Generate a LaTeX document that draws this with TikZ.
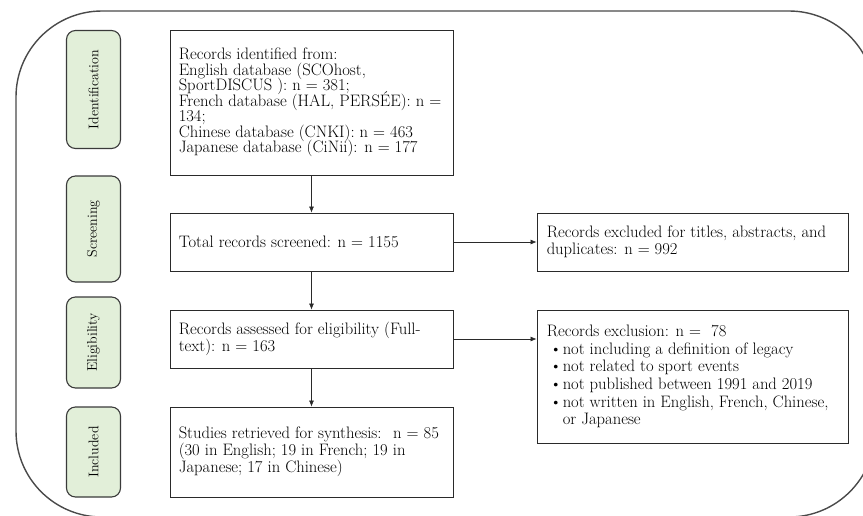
\documentclass[tikz,border=0pt]{standalone}
\usetikzlibrary{arrows.meta}
\definecolor{labfill}{HTML}{E2EFD9}
\definecolor{labdraw}{HTML}{3A3A3A}
\definecolor{framec}{HTML}{4A4A4A}
\definecolor{linec}{HTML}{2A2A2A}
\newcommand\myfs[2]{\fontsize{#1}{#2}\selectfont\lineskiplimit=-20pt\relax}
\tikzset{
  box/.style={draw=linec, line width=0.9pt, rectangle, inner sep=0pt, minimum width=283pt},
  rbox/.style={draw=linec, line width=0.9pt, rectangle, inner sep=0pt, minimum width=311pt},
  lab/.style={draw=labdraw, fill=labfill, line width=1.1pt, rounded corners=9pt, inner sep=0pt, minimum width=54pt},
  labtxt/.style={rotate=90, inner sep=0pt, font={\myfs{14}{15}}},
  txt/.style={anchor=west, align=left, inner sep=0pt, font={\myfs{16.6}{17}}},
  arr/.style={draw=linec, line width=0.6pt, -{Latex[length=6pt,width=5pt]}}
}
\begin{document}
\begin{tikzpicture}[x=1pt,y=-1pt]
\useasboundingbox (0,0) rectangle (863,515);
\begin{scope}
\clip (0,0) rectangle (863,515);
\draw[framec, line width=1.4pt, rounded corners=86pt] (16,11) rectangle (875,517);
\end{scope}
% stage labels
\node[lab, minimum height=118pt] (l1) at (93.5,89.5) {};
\node[labtxt] (l1t) at (l1.center) {Identification};
\node[lab, minimum height=106pt] (l2) at (93.5,229) {};
\node[labtxt] (l2t) at (l2.center) {Screening};
\node[lab, minimum height=91pt] (l3) at (93.5,342.5) {};
\node[labtxt] (l3t) at (l3.center) {Eligibility};
\node[lab, minimum height=90pt] (l4) at (93.5,452) {};
\node[labtxt] (l4t) at (l4.center) {Included};
% main boxes
\node[box, minimum height=145pt] (b1) at (311.5,102.5) {};
\node[txt, font={\myfs{16.6}{15.5}}] (b1t) at ([xshift=9pt]b1.west) {Records identified from:\\English database (SCOhost,\\SportDISCUS ): n = 381;\\French database (HAL, PERSÉE): n =\\134;\\Chinese database (CNKI): n = 463\\Japanese database (CiNii): n = 177};
\node[box, minimum height=58pt] (b2) at (311.5,242) {};
\node[txt] (b2t) at ([xshift=9pt]b2.west) {Total records screened: n = 1155};
\node[box, minimum height=58pt] (b3) at (311.5,339) {};
\node[txt, font={\myfs{16.6}{16.8}}] (b3t) at ([xshift=9pt]b3.west) {Records assessed for eligibility (Full-\\text): n = 163};
\node[box, minimum height=90pt] (b4) at (311.5,452) {};
\node[txt] (b4t) at ([xshift=9pt]b4.west) {Studies retrieved for synthesis:~ n = 85\\(30 in English; 19 in French; 19 in\\Japanese; 17 in Chinese)};
% right boxes
\node[rbox, minimum height=58pt] (r1) at (692.5,242) {};
\node[txt] (r1t) at ([xshift=10pt]r1.west) {Records excluded for titles, abstracts, and\\duplicates: n = 992};
\node[rbox, minimum height=133pt] (r2) at (692.5,376.5) {};
\node[txt, font={\myfs{16.6}{17.6}}] (r2t) at ([xshift=10pt]r2.west) {Records exclusion: n = ~78\\
\hspace*{3pt}\makebox[13pt][l]{\textbullet}not including a definition of legacy\\
\hspace*{3pt}\makebox[13pt][l]{\textbullet}not related to sport events\\
\hspace*{3pt}\makebox[13pt][l]{\textbullet}not published between 1991 and 2019\\
\hspace*{3pt}\makebox[13pt][l]{\textbullet}not written in English, French, Chinese,\\
\hspace*{16pt}or Japanese};
% connectors
\draw[arr] (b1) -- (b2);
\draw[arr] (b2) -- (b3);
\draw[arr] (b3) -- (b4);
\draw[arr] (b2) -- (r1);
\draw[arr] (b3.east) -- (b3.east -| r2.west);
\end{tikzpicture}
\end{document}
